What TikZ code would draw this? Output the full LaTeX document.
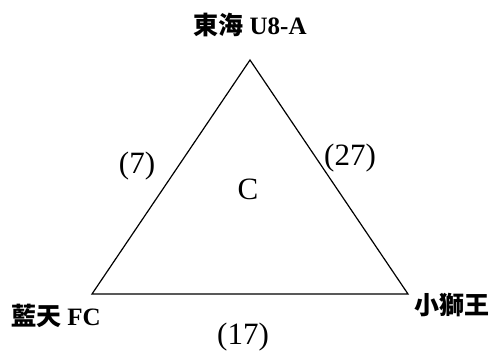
\documentclass[tikz,border=0pt]{standalone}
\usepackage{fontspec}
\setmainfont{Liberation Serif}
\newfontfamily\cjk{Noto Sans CJK TC}
\usepackage{tikz}
\usetikzlibrary{positioning}

\tikzset{
    team/.style={inner sep=0pt, font=\fontsize{25}{28}\selectfont\bfseries},
    score/.style={inner sep=0pt, font=\fontsize{31}{34}\selectfont},
}

\begin{document}
\begin{tikzpicture}[x=1pt,y=-1pt,line width=1.2pt]
    \useasboundingbox (0,0) rectangle (491,353);
    % vertices
    \coordinate (top) at (250,60);
    \coordinate (bl) at (92,294);
    \coordinate (br) at (408,294);
    \draw (top) -- (br) -- (bl) -- cycle;
    % teams
    \node[team] (donghai) at (250,25) {{\cjk\bfseries 東海} U8-A};
    \node[team] (lantian) at (56,316) {{\cjk\bfseries 藍天} FC};
    \node[team] (xiaoshi) at (452,305) {{\cjk\bfseries 小獅王}};
    % scores
    \node[score] (sl) at (137,166) {(7)};
    \node[score] (sr) at (350,158) {(27)};
    \node[score] (sb) at (243,337) {(17)};
    \node[score] (grp) at (248,189) {C};
\end{tikzpicture}
\end{document}
